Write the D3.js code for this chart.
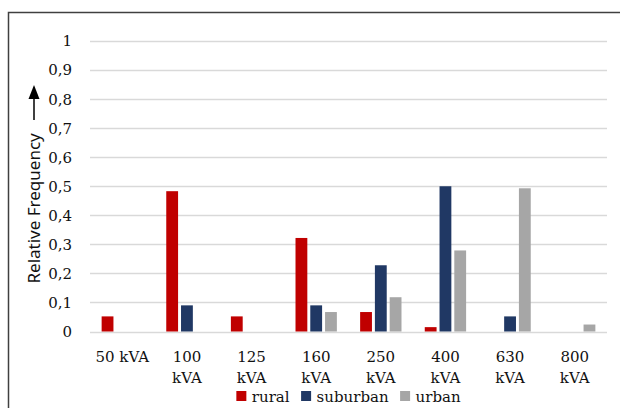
<!DOCTYPE html>
<html><head><meta charset="utf-8">
<script src="https://cdn.jsdelivr.net/npm/d3@7"></script>
<style>body{margin:0;background:#fff}svg{display:block}</style>
</head><body>
<script>
const categories = ["50 kVA","100 kVA","125 kVA","160 kVA","250 kVA","400 kVA","630 kVA","800 kVA"];
const series = ["rural","suburban","urban"];
const rural    = [0.052, 0.483, 0.052, 0.322, 0.067, 0.015, 0,     0];
const suburban = [0,     0.09,  0,     0.09,  0.228, 0.50,  0.052, 0];
const urban    = [0,     0,     0,     0.067, 0.118, 0.279, 0.493, 0.024];
const yTicks = [0,0.1,0.2,0.3,0.4,0.5,0.6,0.7,0.8,0.9,1];
const yTickLabels = ["0","0,1","0,2","0,3","0,4","0,5","0,6","0,7","0,8","0,9","1"];
const colors = {rural:"#c00000", suburban:"#203864", urban:"#a6a6a6"};
const values = {rural, suburban, urban};

const W = 620, H = 408;
const svg = d3.select("body").append("svg").attr("width", W).attr("height", H);
const serif = "'DejaVu Serif', serif";
const textColor = "#111";

// frame
svg.append("rect").attr("x", 8.5).attr("y", 12.5).attr("width", 700).attr("height", 500)
  .attr("fill", "none").attr("stroke", "#404040").attr("stroke-width", 1.5);

const x0 = d3.scaleBand().domain(categories).range([90, 607]);
const x1 = d3.scaleBand().domain(series)
  .range([x0.bandwidth()*0.18, x0.bandwidth()*0.82]).paddingInner(0.2);
const y = d3.scaleLinear().domain([0, 1]).range([331.5, 41]);

// gridlines
svg.append("g").selectAll("line").data(yTicks).join("line")
  .attr("x1", 90).attr("x2", 607)
  .attr("y1", d => Math.round(y(d)) + 0.5).attr("y2", d => Math.round(y(d)) + 0.5)
  .attr("stroke", "#d9d9d9").attr("stroke-width", 1.3);

// y tick labels
svg.append("g").selectAll("text").data(yTicks).join("text")
  .attr("x", 72).attr("y", d => y(d)).attr("dy", "0.36em")
  .attr("text-anchor", "end").attr("font-family", serif).attr("font-size", 15)
  .attr("fill", textColor).text((d, i) => yTickLabels[i]);

// bars
const groups = svg.append("g").selectAll("g").data(categories).join("g")
  .attr("transform", d => `translate(${x0(d)},0)`);
groups.selectAll("rect").data((d, i) => series.map(s => ({s, v: values[s][i]})).filter(o => o.v > 0))
  .join("rect")
  .attr("x", d => x1(d.s)).attr("width", x1.bandwidth())
  .attr("y", d => y(d.v)).attr("height", d => y(0) - y(d.v))
  .attr("fill", d => colors[d.s]);

// x labels
const xl = svg.append("g").selectAll("text").data(categories).join("text")
  .attr("text-anchor", "middle").attr("font-family", serif).attr("font-size", 15)
  .attr("fill", textColor)
  .attr("transform", d => `translate(${x0(d) + x0.bandwidth()/2},0)`);
xl.each(function(d, i) {
  const t = d3.select(this);
  if (i === 0) {
    t.append("tspan").attr("x", 0).attr("y", 361.5).text(d);
  } else {
    const parts = d.split(" ");
    t.append("tspan").attr("x", 0).attr("y", 361.5).text(parts[0]);
    t.append("tspan").attr("x", 0).attr("y", 382.5).text(parts[1]);
  }
});

// y axis title with arrow
svg.append("text")
  .attr("transform", `translate(40,283.5) rotate(-90)`)
  .attr("font-family", "'Noto Sans', sans-serif").attr("font-size", 17)
  .attr("fill", textColor).text("Relative Frequency");
svg.append("line").attr("x1", 34).attr("x2", 34).attr("y1", 120).attr("y2", 97)
  .attr("stroke", "#000").attr("stroke-width", 1.5);
svg.append("path").attr("d", "M28.5,99 L39.5,99 L34,85 Z").attr("fill", "#000");

// legend
const lg = svg.append("g");
let lx = 0;
series.forEach(s => {
  const g = lg.append("g").attr("transform", `translate(${lx},0)`);
  g.append("rect").attr("x", 0).attr("y", 391).attr("width", 10).attr("height", 10).attr("fill", colors[s]);
  const t = g.append("text").attr("x", 15.5).attr("y", 402).attr("font-family", serif)
    .attr("font-size", 15).attr("fill", textColor).text(s);
  lx += 15.5 + t.node().getComputedTextLength() + 11.5;
});
const totalW = lx - 11.5;
lg.attr("transform", `translate(${(90 + 607)/2 - totalW/2},0)`);
</script>
</body></html>
